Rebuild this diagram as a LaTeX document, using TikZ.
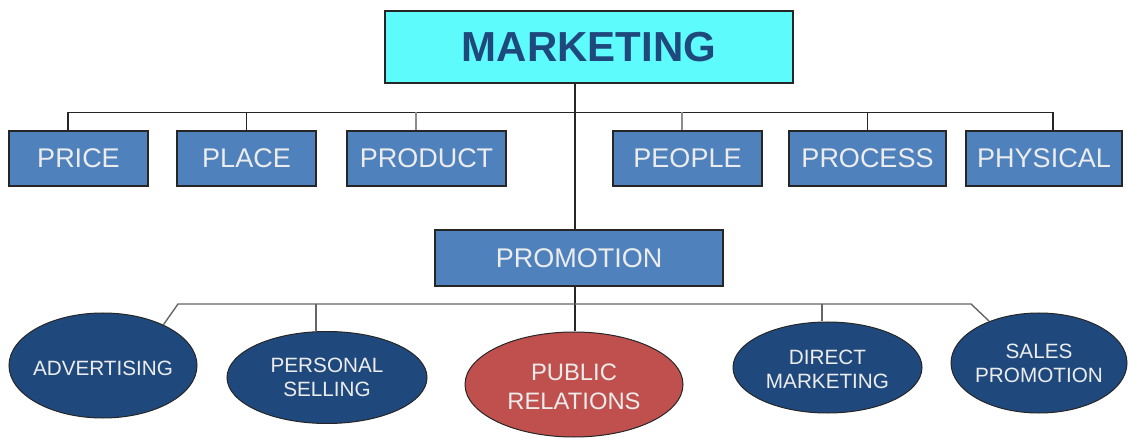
\documentclass[tikz,border=0pt]{standalone}
\usepackage{fontspec}
\setmainfont{Liberation Sans}
\usetikzlibrary{shapes.geometric}

\definecolor{mktcyan}{RGB}{94,251,252}
\definecolor{mktnavy}{RGB}{31,73,125}
\definecolor{boxblue}{RGB}{79,129,189}
\definecolor{ovalblue}{RGB}{31,73,125}
\definecolor{ovalred}{RGB}{192,80,77}
\definecolor{lighttext}{RGB}{236,236,236}

% centred label of zero width, lowered by #1 while keeping its reported size
\newcommand{\ovaltext}[2]{\makebox[0pt]{\raisebox{-#1}[\height][\depth]{\begin{tabular}{@{}c@{}}#2\end{tabular}}}}

\begin{document}
\begin{tikzpicture}[x=1pt,y=-1pt,
  topbox/.style={draw=black!85, line width=1.2pt, fill=mktcyan, text=mktnavy,
    font=\fontsize{42}{50}\selectfont\bfseries, inner sep=0pt,
    minimum width=408pt, minimum height=72pt},
  mixbox/.style={draw=black!85, line width=1.1pt, fill=boxblue, text=lighttext,
    font=\fontsize{27}{32}\selectfont, inner sep=0pt, minimum height=55pt},
  oval/.style={ellipse, draw=black!85, line width=1pt, fill=ovalblue, text=lighttext,
    font=\fontsize{20.7}{24}\selectfont, inner sep=0pt},
  link/.style={draw=black!85, line width=1.2pt},
  softlink/.style={draw=black!45, line width=1.2pt},
  buslink/.style={draw=black!60, line width=1.4pt}]

\useasboundingbox (0,0) rectangle (1130,438);

% top node
\node[topbox] (mkt) at (589,47) {MARKETING};

% marketing mix boxes
\node[mixbox, minimum width=139pt] (price)    at (78.5,158.5)  {PRICE};
\node[mixbox, minimum width=139pt] (place)    at (246.5,158.5) {PLACE};
\node[mixbox, minimum width=159pt] (product)  at (426.5,158.5) {PRODUCT};
\node[mixbox, minimum width=149pt] (people)   at (687.5,158.5) {PEOPLE};
\node[mixbox, minimum width=157pt] (process)  at (867.5,158.5) {PROCESS};
\node[mixbox, minimum width=156pt] (physical) at (1044,158.5)  {PHYSICAL};
\node[mixbox, minimum width=288pt, minimum height=56pt] (prom) at (579,258) {PROMOTION};

% promotion tools
\node[oval, minimum width=188pt, minimum height=105pt] (advert) at (103,365.5)
  {\ovaltext{5.5pt}{ADVERTISING}};
\node[oval, minimum width=200pt, minimum height=92pt] (perssell) at (327,377.5)
  {\ovaltext{2.6pt}{PERSONAL\\SELLING}};
\node[oval, fill=ovalred, minimum width=218pt, minimum height=105pt,
  font=\fontsize{23.8}{28}\selectfont] (pubrel) at (574,384.5)
  {\ovaltext{4.9pt}{PUBLIC\\RELATIONS}};
\node[oval, minimum width=189pt, minimum height=91pt] (direct) at (827.5,367.5)
  {\ovaltext{4.1pt}{DIRECT\\MARKETING}};
\node[oval, minimum width=176pt, minimum height=100pt] (sales) at (1039,363)
  {\ovaltext{3.1pt}{SALES\\PROMOTION}};

% bus junctions
\coordinate (hubTop) at (575,112.5);
\coordinate (busL) at (178,304);
\coordinate (busR) at (971,304);

% upper tree
\draw[link] (mkt.south -| hubTop) -- (prom.north -| hubTop);
\draw[link] ([xshift=-10.5pt]price.north) |- ([xshift=9pt]physical.north |- hubTop)
  -- ([xshift=9pt]physical.north);
\draw[link] (place.north) -- (place.north |- hubTop);
\draw[softlink] ([xshift=-10.5pt]product.north) -- ([xshift=-10.5pt]product.north |- hubTop);
\draw[softlink] ([xshift=-5.5pt]people.north) -- ([xshift=-5.5pt]people.north |- hubTop);
\draw[link] (process.north) -- (process.north |- hubTop);

% lower tree
\draw[link] (prom.south -| hubTop) -- (pubrel.north -| hubTop);
\draw[buslink] (advert.34) -- (busL) -- (busR) -- (sales.140);
\draw[buslink] ([xshift=-11pt]perssell.north) -- ([xshift=-11pt]perssell.north |- busL);
\draw[buslink] ([xshift=-5.5pt]direct.north) -- ([xshift=-5.5pt]direct.north |- busL);
\end{tikzpicture}
\end{document}
